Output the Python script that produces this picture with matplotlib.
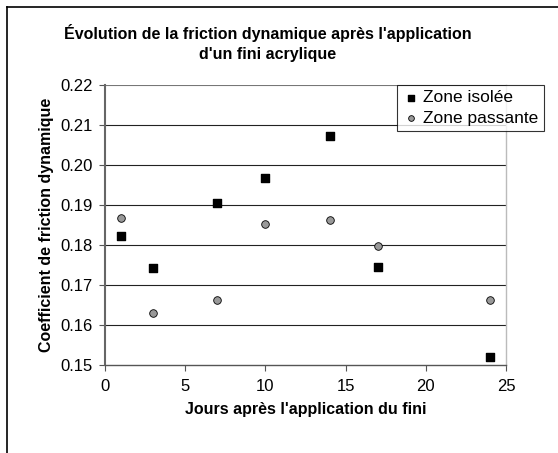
import numpy as np
import matplotlib.pyplot as plt
from matplotlib.lines import Line2D

plt.rcParams['font.family'] = ['Liberation Sans', 'DejaVu Sans']

# jours apres l'application
jours = [1, 3, 7, 10, 14, 17, 24]
zone_isolee = [0.1823, 0.1742, 0.1905, 0.1967, 0.2072, 0.1744, 0.1519]
zone_passante = [0.1867, 0.1631, 0.1662, 0.1852, 0.1863, 0.1798, 0.1662]
yticks = [0.15, 0.16, 0.17, 0.18, 0.19, 0.20, 0.21, 0.22]

fig = plt.figure(figsize=(5.58, 4.53), dpi=100)
ax = fig.add_axes([105/558, 1-365/453, 401/558, 280/453])

for y in yticks[1:]:
    ax.axhline(y, color='#222222' if y < 0.215 else '#777777', lw=0.8, zorder=1)

ax.scatter(jours, zone_isolee, marker='s', s=30, color='black', zorder=3, label='Zone isolée')
ax.scatter(jours, zone_passante, marker='o', s=30, facecolor='#999999', edgecolor='black',
           linewidths=0.6, zorder=3, label='Zone passante')

ax.set_xlim(0, 25)
ax.set_ylim(0.15, 0.22)
ax.set_xticks([0, 5, 10, 15, 20, 25])
ax.set_yticks(yticks)
ax.set_yticklabels(['%.2f' % v for v in yticks])
ax.tick_params(axis='both', labelsize=12, direction='out', length=4, width=0.8, color='#555555')
ax.tick_params(axis='x', pad=6)
ax.tick_params(axis='y', pad=5)

ax.spines['top'].set_visible(False)
ax.spines['left'].set_color('#666666')
ax.spines['left'].set_linewidth(1.5)
ax.spines['bottom'].set_color('#555555')
ax.spines['bottom'].set_linewidth(1.0)
ax.spines['right'].set_color('#bbbbbb')
ax.spines['right'].set_linewidth(1.0)

ax.set_xlabel("Jours après l'application du fini", fontsize=11.5, fontweight='bold', labelpad=6)
ax.set_ylabel('Coefficient de friction dynamique', fontsize=11.5, fontweight='bold', labelpad=4)
fig.text(268/558, 1-43/453, "Évolution de la friction dynamique après l'application\nd'un fini acrylique",
         ha='center', va='center', fontsize=11.5, fontweight='bold', linespacing=1.35)

leg = ax.legend(loc='upper left', bbox_to_anchor=(397/558, 1-85/453), bbox_transform=fig.transFigure,
                frameon=True, fancybox=False, fontsize=12.5, handletextpad=0.2, borderpad=0.3,
                labelspacing=0.3, handlelength=1.0, markerscale=0.75, borderaxespad=0)
leg.get_frame().set_edgecolor('black')
leg.get_frame().set_linewidth(0.8)

# cadre du graphique
fig.add_artist(Line2D([7/558, 7/558], [0, 1-7/453], color='black', lw=1.2, transform=fig.transFigure))
fig.add_artist(Line2D([7/558, 1], [1-7/453, 1-7/453], color='black', lw=1.2, transform=fig.transFigure))

fig.savefig('out.png', dpi=100)
